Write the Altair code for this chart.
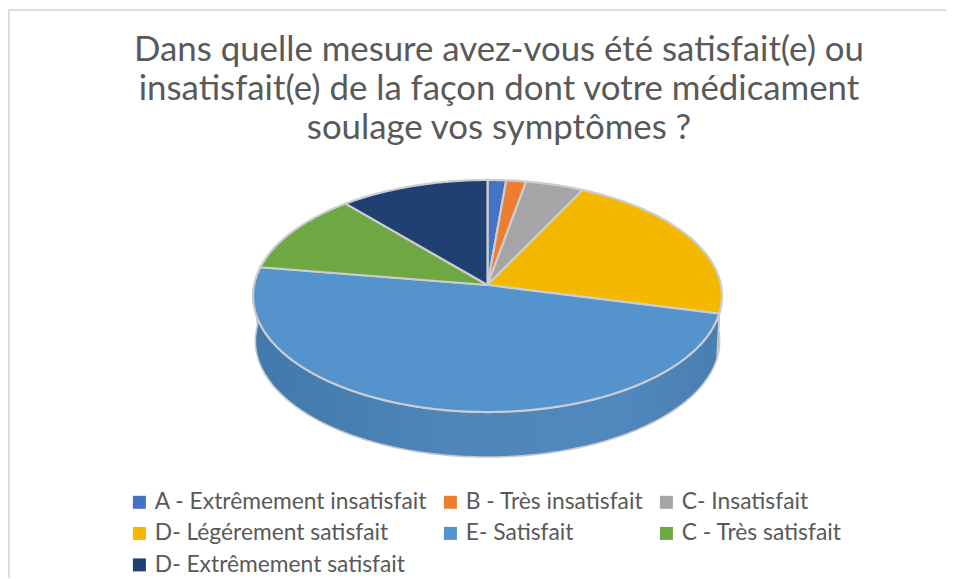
import math
import altair as alt
import pandas as pd

categories = ["A - Extrêmement insatisfait", "B - Très insatisfait", "C- Insatisfait",
              "D- Légérement satisfait", "E- Satisfait", "C - Très satisfait",
              "D- Extrêmement satisfait"]
shares = [1.4, 1.5, 4.4, 21.6, 48.6, 11.2, 11.3]
colors = ["#4472C4", "#ED7D31", "#A5A5A5", "#F4B800", "#5593CC", "#6FA843", "#203F72"]
title_lines = ["Dans quelle mesure avez-vous été satisfait(e) ou",
               "insatisfait(e) de la façon dont votre médicament",
               "soulage vos symptômes ?"]

W, H = 938, 570
APEX_X, APEX_Y = 487.5 - 8, 285 - 8
A, B, K = 233.4, 115.0, 0.0948
DEPTH = 45


def rim(deg, depth=0):
    t = math.radians(deg)
    u, v = math.sin(t), math.cos(t)
    d = 1 + K * v
    shrink = 0.99 if depth else 1
    return APEX_X + shrink * A * u / d, APEX_Y - B * v / d + depth


slices, walls = [], []
start = 0.0
for cat, share in zip(categories, shares):
    end = start + share * 3.6
    n = max(int(end - start) * 2, 4)
    arc = [start + (end - start) * j / n for j in range(n + 1)]
    pts = [(APEX_X, APEX_Y)] + [rim(a) for a in arc] + [(APEX_X, APEX_Y)]
    for i, (x, y) in enumerate(pts):
        slices.append({"cat": cat, "i": i, "x": x, "y": y})
    lo, hi = max(start, 90), min(end, 272)
    if hi > lo:
        arc = [lo + (hi - lo) * j / 180 for j in range(181)]
        pts = [rim(a) for a in arc] + [rim(a, DEPTH) for a in reversed(arc)]
        pts.append(pts[0])
        for i, (x, y) in enumerate(pts):
            walls.append({"cat": cat, "i": i, "x": x, "y": y})
    start = end

df_s = pd.DataFrame(slices)
df_w = pd.DataFrame(walls)

xs = alt.Scale(domain=[0, W], range=[0, W], nice=False, zero=False)
ys = alt.Scale(domain=[0, H], range=[0, H], nice=False, zero=False)
X = alt.X("x:Q", scale=xs, axis=None)
Y = alt.Y("y:Q", scale=ys, axis=None)

wall_grad = alt.Gradient(
    gradient="linear", x1=0, x2=1, y1=0, y2=0,
    stops=[alt.GradientStop(offset=0, color="#4179AB"),
           alt.GradientStop(offset=0.45, color="#4F86BC"),
           alt.GradientStop(offset=0.8, color="#5088BE"),
           alt.GradientStop(offset=1, color="#4A7EB0")])

blue_wall = alt.Chart(df_w[df_w.cat == categories[4]]).mark_line(
    fill=wall_grad, stroke="#C4C8CC", strokeWidth=1.6, strokeJoin="round"
).encode(x=X, y=Y, order="i:Q")
yellow_wall = alt.Chart(df_w[df_w.cat == categories[3]]).mark_line(
    fill="#B58A00", stroke="#C4C8CC", strokeWidth=1.6
).encode(x=X, y=Y, order="i:Q")

top = alt.Chart(df_s).mark_line(stroke="#CBCDCF", strokeWidth=2.2, strokeJoin="round").encode(
    x=X, y=Y, order="i:Q",
    fill=alt.Fill("cat:N",
                  scale=alt.Scale(domain=categories, range=colors),
                  legend=alt.Legend(
                      title=None, orient="none", legendX=120, legendY=482.5, columns=3,
                      direction="horizontal",
                      symbolType="square", symbolSize=169, symbolStrokeWidth=0,
                      labelFont="Lato", labelFontSize=22.8, labelColor="#595959",
                      labelOffset=4, columnPadding=11, rowPadding=7.5, labelLimit=400,
                      padding=0)))

title = alt.Chart(pd.DataFrame({"a": [0]})).mark_text(
    text=title_lines, font="Lato", fontSize=34.8, lineHeight=39, color="#595959",
    align="center", baseline="top").encode(x=alt.value(491), y=alt.value(26))

frame_top = alt.Chart(pd.DataFrame({"a": [0]})).mark_rule(color="#DDDDDD", strokeWidth=2).encode(
    x=alt.value(0), x2=alt.value(W), y=alt.value(2))
frame_left = alt.Chart(pd.DataFrame({"a": [0]})).mark_rule(color="#DDDDDD", strokeWidth=2).encode(
    x=alt.value(1), y=alt.value(2), y2=alt.value(H))

chart = alt.layer(frame_top, frame_left, title, yellow_wall, blue_wall, top).properties(
    width=W, height=H, padding=0, autosize=alt.AutoSizeParams(type="none"),
    background="white"
).configure_view(stroke=None)

chart.save("out.html", embed_options={"renderer": "svg", "actions": False})
